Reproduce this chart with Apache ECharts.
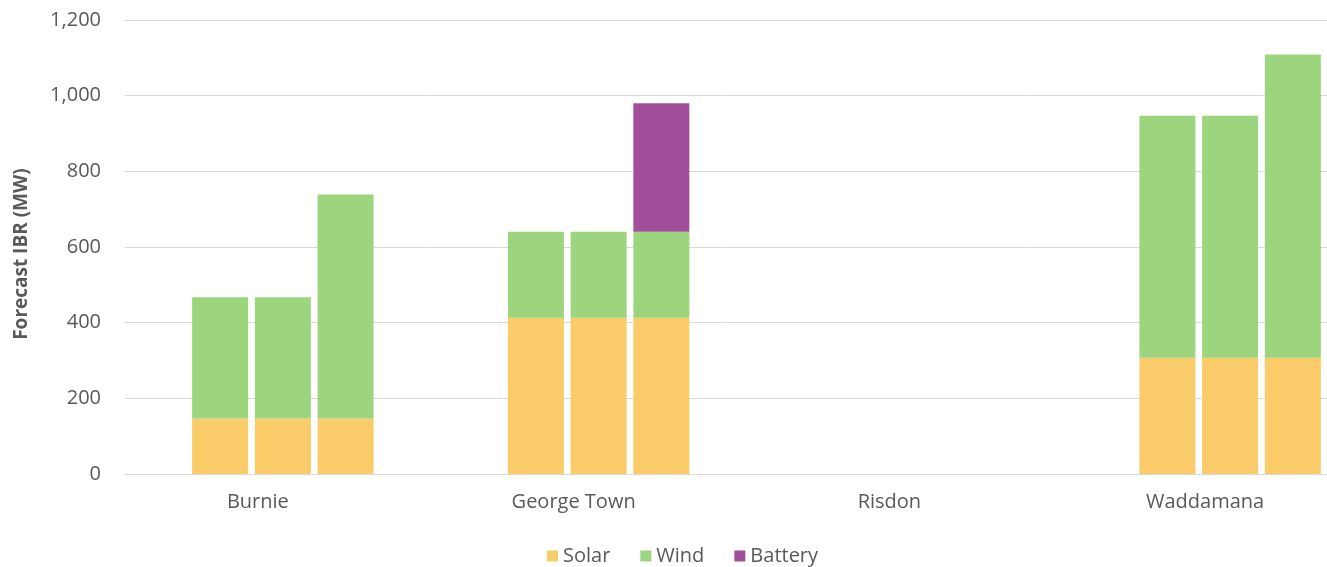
<!DOCTYPE html>
<html>
<head>
<meta charset="utf-8">
<title>Forecast IBR by substation</title>
<script src="https://cdn.jsdelivr.net/npm/echarts@6/dist/echarts.min.js"></script>
<style>
  html, body { margin: 0; padding: 0; background: #ffffff; }
  #chart { width: 1327px; height: 567px; }
</style>
</head>
<body>
<div id="chart"></div>
<script>
// Substations along the x axis
const categories = ['Burnie', 'George Town', 'Risdon', 'Waddamana'];

// Forecast inverter-based resources (MW) for three scenarios per substation
const solarS1 = [147, 413, 0, 307];
const solarS2 = [147, 413, 0, 307];
const solarS3 = [147, 413, 0, 307];

const windS1 = [320, 227, 0, 640];
const windS2 = [320, 227, 0, 640];
const windS3 = [592, 227, 0, 802];

const batteryS1 = [0, 0, 0, 0];
const batteryS2 = [0, 0, 0, 0];
const batteryS3 = [0, 340, 0, 0];

const yTicks = [0, 200, 400, 600, 800, 1000, 1200];

const colors = { Solar: '#F9CB69', Wind: '#9DD47E', Battery: '#A24F9B' };
const textColor = '#595959';
const fontFamily = '"Open Sans", "DejaVu Sans", sans-serif';

const scenarios = [
  { stack: 's1', Solar: solarS1, Wind: windS1, Battery: batteryS1 },
  { stack: 's2', Solar: solarS2, Wind: windS2, Battery: batteryS2 },
  { stack: 's3', Solar: solarS3, Wind: windS3, Battery: batteryS3 }
];

const series = [];
scenarios.forEach(function (sc) {
  ['Solar', 'Wind', 'Battery'].forEach(function (kind) {
    series.push({
      name: kind,
      type: 'bar',
      stack: sc.stack,
      data: sc[kind],
      barWidth: 56,
      barGap: '12%',
      itemStyle: { color: colors[kind] },
      emphasis: { disabled: true }
    });
  });
});

const chart = echarts.init(document.getElementById('chart'), null, { renderer: 'canvas' });
chart.setOption({
  backgroundColor: '#ffffff',
  animation: false,
  textStyle: { fontFamily: fontFamily },
  grid: {
    left: 125,
    right: -61,
    top: 20,
    bottom: 93,
    outerBoundsMode: 'none',
    containLabel: false
  },
  legend: {
    data: ['Solar', 'Wind', 'Battery'],
    left: 542,
    top: 541,
    icon: 'rect',
    itemWidth: 11,
    itemHeight: 11,
    itemGap: 30,
    textStyle: { color: textColor, fontSize: 20, fontFamily: fontFamily }
  },
  xAxis: {
    type: 'category',
    data: categories,
    axisLine: { show: true, lineStyle: { color: '#D9D9D9', width: 1 } },
    axisTick: { show: false },
    axisLabel: {
      color: textColor,
      fontSize: 20,
      margin: 18,
      padding: [0, 50, 0, 0],
      fontFamily: fontFamily
    },
    splitLine: { show: false }
  },
  yAxis: {
    type: 'value',
    min: yTicks[0],
    max: yTicks[yTicks.length - 1],
    interval: yTicks[1] - yTicks[0],
    name: 'Forecast IBR (MW)',
    nameLocation: 'middle',
    nameGap: 94,
    nameTextStyle: { color: textColor, fontSize: 19, fontWeight: 'bold', fontFamily: fontFamily, padding: [0, 14, 0, 0] },
    axisLine: { show: false },
    axisTick: { show: false },
    axisLabel: {
      color: textColor,
      fontSize: 20,
      margin: 24,
      fontFamily: fontFamily,
      formatter: function (v) { return v.toLocaleString('en-US'); }
    },
    splitLine: { show: true, lineStyle: { color: '#D9D9D9', width: 1 } }
  },
  series: series
});
</script>
</body>
</html>
